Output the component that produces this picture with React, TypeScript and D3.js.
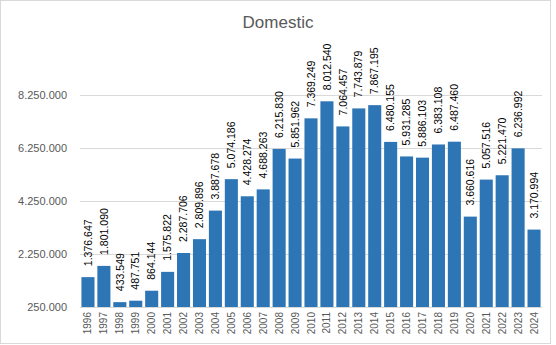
import React from "react";
import * as d3 from "d3";

const years = ["1996","1997","1998","1999","2000","2001","2002","2003","2004","2005","2006","2007","2008","2009","2010","2011","2012","2013","2014","2015","2016","2017","2018","2019","2020","2021","2022","2023","2024"];
const values = [1376647,1801090,433549,487751,864144,1575822,2287706,2809896,3887678,5074186,4428274,4688263,6215830,5851962,7369249,8012540,7064457,7743879,7867195,6480155,5931285,5886103,6383108,6487460,3660616,5057516,5221470,6236992,3170994];
const yTicks = [250000,2250000,4250000,6250000,8250000];
const title = "Domestic";

const W = 556, H = 345;
const font = "'Liberation Sans', Arial, sans-serif";

const locale = d3.formatLocale({ thousands: ".", decimal: ",", grouping: [3], currency: ["", ""] });
const fmt = locale.format(",d");

export default function App() {
  const x = d3.scaleBand<string>().domain(years).range([80, 542]).paddingInner(0.18).paddingOuter(0.09);
  const y = d3.scaleLinear().domain([250000, 8250000]).range([307, 95]);
  return (
    <svg width={W} height={H} style={{ position: "absolute", left: 0, top: 0, background: "#fff" }}>
      <rect x={0.5} y={0.5} width={550} height={343} fill="#fff" stroke="#d9d9d9" />
      <text x={278} y={27.5} textAnchor="middle" fontFamily={font} fontSize={17} fill="#595959">{title}</text>
      {yTicks.map((t) => (
        <g key={t}>
          <line x1={80} x2={542} y1={Math.round(y(t)) + 0.5} y2={Math.round(y(t)) + 0.5} stroke="#d9d9d9" />
          <text x={67} y={y(t)} dy="0.35em" textAnchor="end" fontFamily={font} fontSize={11} fill="#595959">{fmt(t)}</text>
        </g>
      ))}
      {years.map((yr, i) => {
        const bx = x(yr)!;
        const cx = bx + x.bandwidth() / 2;
        const top = y(values[i]);
        return (
          <g key={yr}>
            <rect x={bx} y={top} width={x.bandwidth()} height={y(250000) - top} fill="#2E75B6" />
            <text transform={`translate(${cx},${top - 11}) rotate(-90)`} dy="0.35em" textAnchor="start" fontFamily={font} fontSize={10.5} fill="#000">{fmt(values[i])}</text>
            <text transform={`translate(${cx},312) rotate(-90)`} dy="0.35em" textAnchor="end" fontFamily={font} fontSize={10} fill="#595959">{yr}</text>
          </g>
        );
      })}
    </svg>
  );
}
